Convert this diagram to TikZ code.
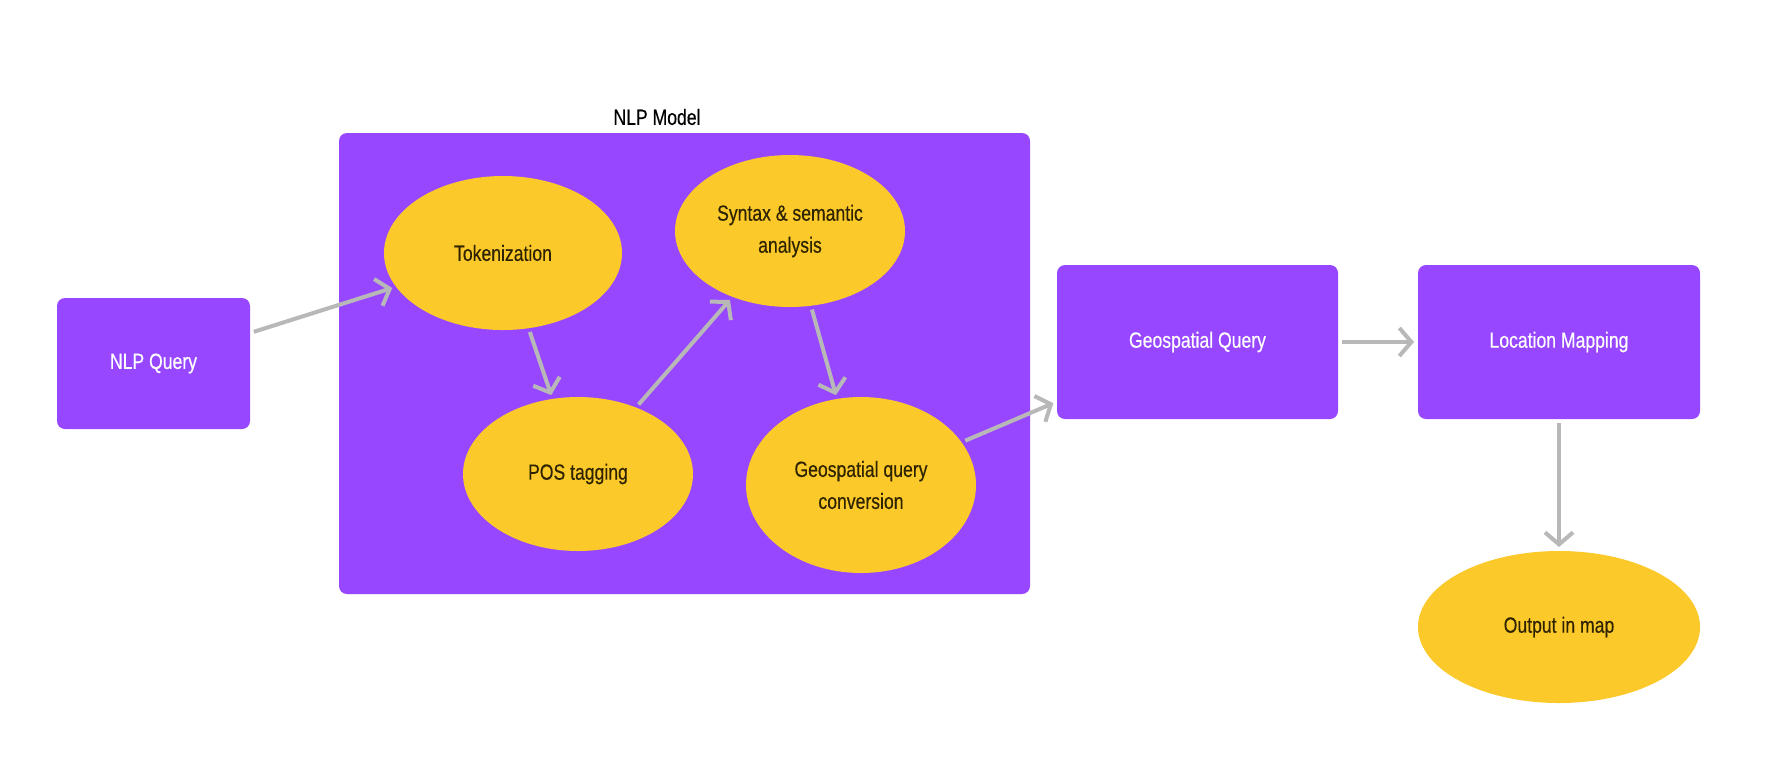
\documentclass[tikz,border=0pt]{standalone}
\usepackage{fontspec}
\setmainfont{Liberation Sans}[FakeStretch=0.8,FakeBold=0.35]
\usetikzlibrary{shapes.geometric,arrows.meta}
\definecolor{boxpurple}{HTML}{9747FF}
\definecolor{ovalyellow}{HTML}{FCC92A}
\definecolor{ovaltext}{HTML}{2E2300}
\definecolor{arrowgray}{HTML}{B8B8B8}
\tikzset{
  lbl/.style={font=\fontsize{11}{16}\selectfont, align=center},
  pbox/.style={lbl, rectangle, rounded corners=4pt, fill=boxpurple, text=white, inner sep=0pt, outer sep=0pt},
  oval/.style={lbl, ellipse, fill=ovalyellow, text=ovaltext, inner sep=0pt, outer sep=0pt},
  container/.style={rectangle, rounded corners=4pt, fill=boxpurple, inner sep=0pt, outer sep=0pt},
  flow/.style={draw=arrowgray, line width=2pt, shorten >=2pt, shorten <=2pt,
    -{Straight Barb[length=6pt,width=14pt]}},
}
\begin{document}
\begin{tikzpicture}[x=0.5pt,y=-0.5pt]
\useasboundingbox (0,0) rectangle (1784,768);
\fill[white] (0,0) rectangle (1784,768);
% container
\node[container, minimum width=345.5pt, minimum height=230.5pt] (model) at (684.5,363.5) {};
\node[lbl, text=black] (modellbl) at (657,117) {NLP Model};
% boxes
\node[pbox, minimum width=96.5pt, minimum height=65.5pt] (nq) at (153.5,363.5) {NLP Query};
\node[pbox, minimum width=140.5pt, minimum height=77pt] (gq) at (1197.5,342) {Geospatial Query};
\node[pbox, minimum width=141pt, minimum height=77pt] (lm) at (1559,342) {Location Mapping};
% ovals
\node[oval, minimum width=119pt, minimum height=77pt] (tok) at (503,253) {Tokenization};
\node[oval, minimum width=115pt, minimum height=77pt] (pos) at (578,474) {POS tagging};
\node[oval, minimum width=115pt, minimum height=76pt] (syn) at (790,231) {Syntax \& semantic\\analysis};
\node[oval, minimum width=115pt, minimum height=88pt] (gqc) at (861,485) {Geospatial query\\conversion};
\node[oval, minimum width=141pt, minimum height=76pt] (out) at (1559,627) {Output in map};
% arrows
\draw[flow] (nq) -- (tok);
\draw[flow] (tok) -- (pos);
\draw[flow] (pos) -- (syn);
\draw[flow] (syn) -- (gqc);
\draw[flow] (gqc) -- (gq);
\draw[flow] (gq) -- (lm);
\draw[flow] (lm) -- (out);
\end{tikzpicture}
\end{document}
